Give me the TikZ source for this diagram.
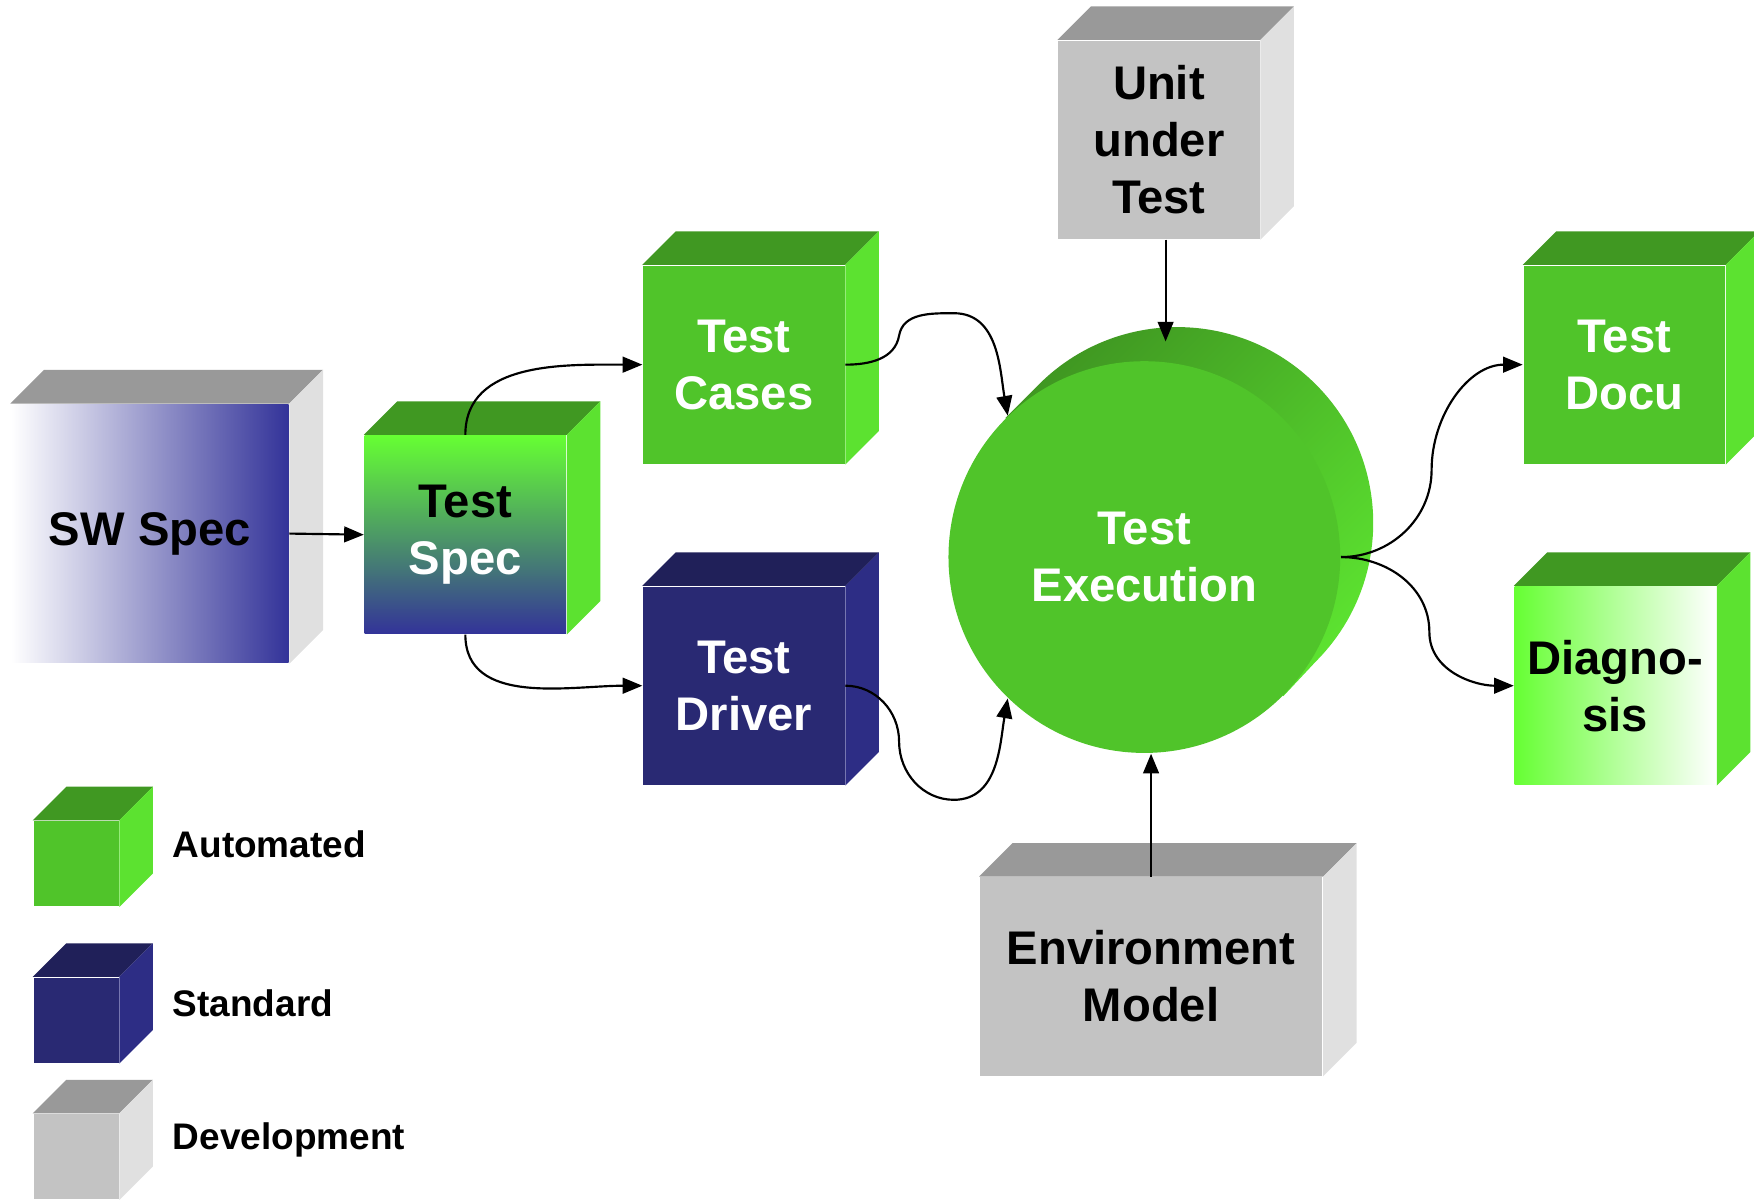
\documentclass[tikz,border=0pt]{standalone}
\usepackage{fontspec}
\setmainfont{Liberation Sans}
\usepackage{tikz}
\usetikzlibrary{positioning}
\usetikzlibrary{arrows.meta}
\usetikzlibrary{backgrounds}

\definecolor{autofront}{RGB}{80,196,42}
\definecolor{autotop}{RGB}{64,152,34}
\definecolor{autoside}{RGB}{92,226,48}
\definecolor{brightgreen}{RGB}{102,255,51}
\definecolor{stdfront}{RGB}{41,41,115}
\definecolor{stdtop}{RGB}{32,32,89}
\definecolor{stdside}{RGB}{45,45,133}
\definecolor{develfront}{RGB}{195,195,195}
\definecolor{develtop}{RGB}{153,153,153}
\definecolor{develside}{RGB}{224,224,224}
\definecolor{specblue}{RGB}{51,51,153}

\newcommand{\cubefont}{\fontsize{12}{14.5}\selectfont\bfseries}
\newcommand{\legfont}{\fontsize{9.4}{11}\selectfont\bfseries}
\newcommand{\cubedepth}{30}
% top and side face behind a front node
\newcommand{\cubefaces}[3]{%
  \fill[#2] (#1.north west) -- ++(\cubedepth,\cubedepth)
    -- ([shift={(\cubedepth,\cubedepth)}]#1.north east) -- (#1.north east) -- cycle;
  \fill[#3] (#1.north east) -- ++(\cubedepth,\cubedepth)
    -- ([shift={(\cubedepth,\cubedepth)}]#1.south east) -- (#1.south east) -- cycle;
}

\tikzset{
  face/.style={rectangle, inner sep=0pt, align=center, font=\cubefont,
    minimum width=1.8cm, minimum height=1.77cm},
  automated/.style={face, fill=autofront, text=white},
  standard/.style={face, fill=stdfront, text=white},
  devel/.style={face, fill=develfront, text=black},
  execface/.style={circle, inner sep=0pt, minimum size=3.5cm, align=center,
    font=\cubefont, fill=autofront, text=white},
  legbox/.style={rectangle, inner sep=0pt, minimum size=0.76cm},
  leglabel/.style={inner sep=0pt, anchor=west, font=\legfont},
  link/.style={line width=0.55pt, -{Triangle[length=5pt,width=4pt]}},
}

\begin{document}
\begin{tikzpicture}[x=0.01cm,y=0.01cm]
  \useasboundingbox (0,0) rectangle (1568,-1076);

  % specification
  \node[face, minimum width=2.48cm, minimum height=2.31cm, text=black,
        left color=white, middle color=specblue!38, right color=specblue] (swspec) at (134,-477) {SW Spec};
  \cubefaces{swspec}{develtop}{develside}
  \node[face, top color=brightgreen, bottom color=specblue] (tspec) at (416,-478)
        {Test\\\textcolor{white}{Spec}};
  \cubefaces{tspec}{autotop}{autoside}

  % test inputs
  \node[automated] (tcases) at (665,-326) {Test\\Cases};
  \cubefaces{tcases}{autotop}{autoside}
  \node[standard] (tdriver) at (665,-613) {Test\\Driver};
  \cubefaces{tdriver}{stdtop}{stdside}
  \node[devel] (uut) at (1036,-125) {Unit\\under\\Test};
  \cubefaces{uut}{develtop}{develside}
  \node[devel, minimum width=3.06cm] (env) at (1029,-873) {Environment\\Model};
  \cubefaces{env}{develtop}{develside}

  % execution
  \node[execface] (exec) at (1023,-498) {Test\\Execution};
  \begin{scope}[on background layer]
    \shade[top color=autotop, bottom color=autoside, shading angle=45]
      (exec.135) -- ([shift={(30,30)}]exec.135)
      arc[start angle=135, end angle=-45, radius=1.75cm] -- (exec.-45) -- cycle;
  \end{scope}

  % results
  \node[automated] (docu) at (1452,-326) {Test\\Docu};
  \cubefaces{docu}{autotop}{autoside}
  \node[face, text=black, left color=brightgreen, right color=white] (diag) at (1444,-613)
        {Diagno-\\sis};
  \cubefaces{diag}{autotop}{autoside}

  % legend
  \node[legbox, fill=autofront] (legauto) at (68,-772) {};
  \cubefaces{legauto}{autotop}{autoside}
  \node[leglabel, right=0.47cm of legauto.east, yshift=0.17cm] (legautotext) {Automated};
  \node[legbox, fill=stdfront] (legstd) at (68,-912) {};
  \cubefaces{legstd}{stdtop}{stdside}
  \node[leglabel, right=0.47cm of legstd.east, yshift=0.15cm] (legstdtext) {Standard};
  \node[legbox, fill=develfront] (legdevel) at (68,-1034) {};
  \cubefaces{legdevel}{develtop}{develside}
  \node[leglabel, right=0.47cm of legdevel.east, yshift=0.15cm] (legdeveltext) {Development};

  % connectors
  \draw[link] (swspec.east) -- (tspec.west);
  \draw[link] (tspec.north) to[out=90,in=180] (tcases.west);
  \draw[link] (tspec.south) to[out=-90,in=180] (tdriver.west);
  \draw[link] (tcases.east) to[out=0,in=-100] ++(48,26)
    to[out=80,in=180] ++(49,20) to[out=0,in=100] (exec.134);
  \draw[link] (tdriver.east) to[out=0,in=90] ++(48,-50)
    to[out=-90,in=180] ++(49,-52) to[out=0,in=-100] (exec.-134);
  \draw[link] ([xshift=0.06cm]uut.south) -- ++(0,-91);
  \draw[link] (env.north) -- (env.north |- exec.south);
  \draw[link] (exec.east) to[out=0,in=-90] ++(81,78) to[out=90,in=180] (docu.west);
  \draw[link] (exec.east) to[out=0,in=90] ++(79,-67) to[out=-90,in=180] (diag.west);

\end{tikzpicture}
\end{document}
